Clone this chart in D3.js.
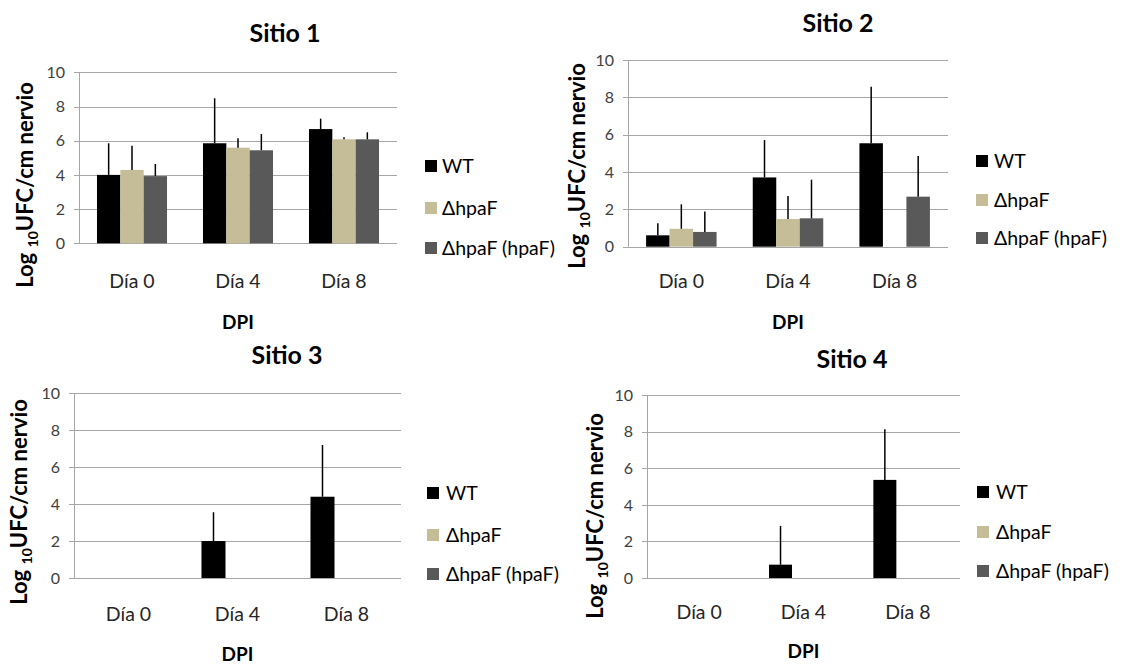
<!DOCTYPE html>
<html>
<head>
<meta charset="utf-8">
<script src="https://cdn.jsdelivr.net/npm/d3@7"></script>
<style>
  body { margin: 0; background: #fff; }
  svg { display: block; font-family: Lato, "Open Sans", sans-serif; }
</style>
</head>
<body>
<div id="graph"></div>
<script>
const categories = ["Día 0", "Día 4", "Día 8"];
const series = ["WT", "ΔhpaF", "ΔhpaF (hpaF)"];
const yTicks = [0, 2, 4, 6, 8, 10];
const colors = ["#000000", "#c4bd97", "#595959"];

// means per series (WT, ΔhpaF, ΔhpaF (hpaF)) for each day
const sitio1Means = [[4.0, 5.85, 6.68], [4.29, 5.59, 6.08], [3.93, 5.44, 6.08]];
const sitio1Err   = [[1.85, 2.63, 0.61], [1.42, 0.55, 0.12], [0.71, 0.95, 0.41]];
const sitio2Means = [[0.61, 3.71, 5.54], [0.96, 1.48, 0], [0.79, 1.52, 2.68]];
const sitio2Err   = [[0.64, 2.0, 3.03], [1.31, 1.23, 0], [1.09, 2.07, 2.18]];
const sitio3Means = [[0, 2.0, 4.4], [0, 0, 0], [0, 0, 0]];
const sitio3Err   = [[0, 1.56, 2.8], [0, 0, 0], [0, 0, 0]];
const sitio4Means = [[0, 0.73, 5.37], [0, 0, 0], [0, 0, 0]];
const sitio4Err   = [[0, 2.12, 2.77], [0, 0, 0], [0, 0, 0]];

const titles = ["Sitio 1", "Sitio 2", "Sitio 3", "Sitio 4"];

// layout for each panel
const panels = [
  {means: sitio1Means, err: sitio1Err, x0: 79, x1: 397, y0: 72.3, y1: 243.3,
   titleX: 285, titleY: 42, catY: 288, dpiY: 329, yTitleX: 25, yTitleY: 185,
   legX: 425, legTextX: 442, legY: [166, 208, 248]},
  {means: sitio2Means, err: sitio2Err, x0: 628, x1: 948, y0: 60, y1: 246.7,
   titleX: 838, titleY: 32, catY: 288, dpiY: 329, yTitleX: 577, yTitleY: 166,
   legX: 976, legTextX: 994, legY: [161, 200, 238]},
  {means: sitio3Means, err: sitio3Err, x0: 74, x1: 401, y0: 393.3, y1: 578,
   titleX: 287, titleY: 364, catY: 621, dpiY: 661, yTitleX: 19, yTitleY: 502,
   legX: 427, legTextX: 446, legY: [493, 535, 574]},
  {means: sitio4Means, err: sitio4Err, x0: 647, x1: 960, y0: 395.3, y1: 578,
   titleX: 852, titleY: 368, catY: 619, dpiY: 658, yTitleX: 595, yTitleY: 516,
   legX: 977, legTextX: 996, legY: [492, 532, 571]}
];

const svg = d3.select("#graph").append("svg")
    .attr("width", 1127)
    .attr("height", 666);

panels.forEach((p, i) => drawPanel(p, titles[i]));

function drawPanel(p, title) {
  const g = svg.append("g");

  const y = d3.scaleLinear().domain([0, 10]).range([p.y1, p.y0]);
  const x = d3.scaleBand().domain(categories).range([p.x0, p.x1]).padding(0);
  const xs = d3.scaleBand().domain(series).range([0, x.bandwidth()])
      .paddingInner(0).paddingOuter(0.77);

  // gridlines + small ticks to the left
  g.append("g").selectAll("line")
    .data(yTicks)
    .join("line")
      .attr("x1", p.x0 - 5)
      .attr("x2", p.x1)
      .attr("y1", d => Math.round(y(d)) + 0.5)
      .attr("y2", d => Math.round(y(d)) + 0.5)
      .attr("stroke", "#a6a6a6")
      .attr("stroke-width", 1);

  g.append("line")
    .attr("x1", p.x0 + 0.5).attr("x2", p.x0 + 0.5)
    .attr("y1", y(10)).attr("y2", y(0))
    .attr("stroke", "#a6a6a6");

  g.append("g").selectAll("text")
    .data(yTicks)
    .join("text")
      .attr("x", p.x0 - 14)
      .attr("y", d => y(d))
      .attr("dy", "0.35em")
      .attr("text-anchor", "end")
      .attr("fill", "#404040")
      .style("font-size", "16px")
      .text(d => d);

  // bars
  const cells = [];
  series.forEach((s, si) => {
    categories.forEach((c, ci) => {
      cells.push({s, si, c, v: p.means[si][ci], e: p.err[si][ci]});
    });
  });

  g.append("g").selectAll("rect")
    .data(cells.filter(d => d.v > 0))
    .join("rect")
      .attr("x", d => x(d.c) + xs(d.s))
      .attr("y", d => y(d.v))
      .attr("width", xs.bandwidth())
      .attr("height", d => y(0) - y(d.v))
      .attr("fill", d => colors[d.si]);

  // error bars (plus only)
  g.append("g").selectAll("line")
    .data(cells.filter(d => d.e > 0))
    .join("line")
      .attr("x1", d => x(d.c) + xs(d.s) + xs.bandwidth() / 2)
      .attr("x2", d => x(d.c) + xs(d.s) + xs.bandwidth() / 2)
      .attr("y1", d => y(d.v))
      .attr("y2", d => y(d.v + d.e))
      .attr("stroke", "#000")
      .attr("stroke-width", 1.5);

  // category labels
  g.append("g").selectAll("text")
    .data(categories)
    .join("text")
      .attr("x", d => x(d) + x.bandwidth() / 2)
      .attr("y", p.catY)
      .attr("text-anchor", "middle")
      .attr("fill", "#262626")
      .style("font-size", "19.5px")
      .text(d => d);

  g.append("text")
    .attr("x", (p.x0 + p.x1) / 2)
    .attr("y", p.dpiY)
    .attr("text-anchor", "middle")
    .style("font-size", "19px")
    .style("font-weight", "bold")
    .text("DPI");

  g.append("text")
    .attr("x", p.titleX)
    .attr("y", p.titleY)
    .attr("text-anchor", "middle")
    .style("font-size", "25px")
    .style("font-weight", "bold")
    .text(title);

  // y title with subscript
  const yt = g.append("text")
    .attr("transform", `translate(${p.yTitleX},${p.yTitleY}) rotate(-90)`)
    .attr("text-anchor", "middle")
    .attr("dy", "0.35em")
    .style("font-size", "22px")
    .style("font-weight", "bold");
  yt.append("tspan").text("Log ");
  yt.append("tspan").attr("dy", 5).style("font-size", "14px").text("10");
  yt.append("tspan").attr("dy", -5).text("UFC/cm nervio");

  // legend
  const leg = g.append("g").selectAll("g")
    .data(series)
    .join("g")
      .attr("transform", (d, i) => `translate(0,${p.legY[i]})`);
  leg.append("rect")
    .attr("x", p.legX)
    .attr("y", -6)
    .attr("width", 12)
    .attr("height", 12)
    .attr("fill", (d, i) => colors[i]);
  leg.append("text")
    .attr("x", p.legTextX)
    .attr("dy", "0.35em")
    .attr("fill", "#000")
    .style("font-size", "19.5px")
    .text(d => d);
}
</script>
</body>
</html>
